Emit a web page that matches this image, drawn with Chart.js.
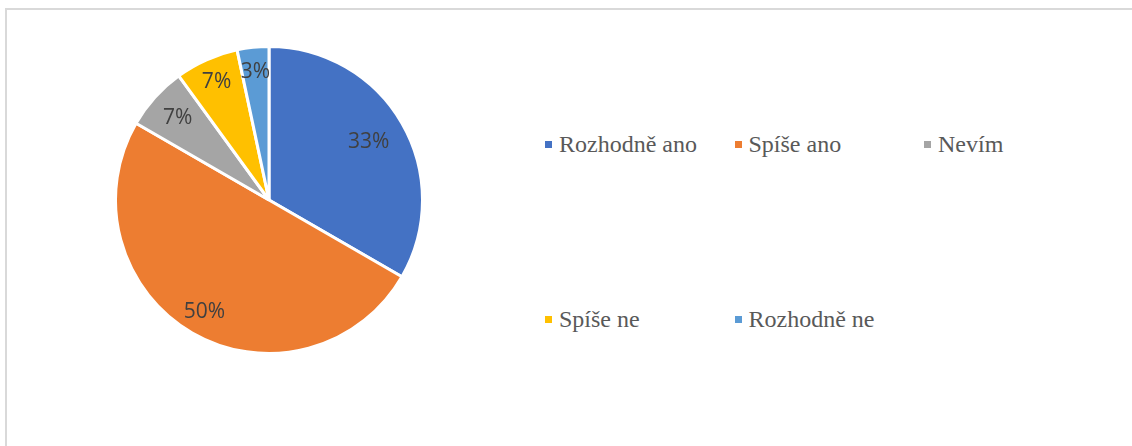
<!DOCTYPE html>
<html>
<head>
<meta charset="utf-8">
<script src="https://cdn.jsdelivr.net/npm/chart.js"></script>
<style>
  html, body { margin: 0; padding: 0; background: #fff; }
  body { width: 1132px; height: 446px; position: relative; overflow: hidden; }
  #frame { position: absolute; left: 5px; top: 8px; width: 1200px; height: 500px;
           border-left: 2px solid #d9d9d9; border-top: 2px solid #d9d9d9; }
  #pieBox { position: absolute; left: 114px; top: 45px; width: 310px; height: 310px; }
  .leg { position: absolute; height: 30px; line-height: 30px; display: flex; align-items: center;
         font-family: "Liberation Serif", "Times New Roman", serif; font-size: 24px; color: #595959;
         white-space: nowrap; }
  .leg i { display: inline-block; width: 7px; height: 7px; margin-right: 7px; }
</style>
</head>
<body>
<div id="frame"></div>
<div id="pieBox"><canvas id="pie"></canvas></div>
<div id="legend"></div>
<script>
// data
var categories = ["Rozhodně ano", "Spíše ano", "Nevím", "Spíše ne", "Rozhodně ne"];
var counts = [10, 15, 2, 2, 1];
var colors = ["#4472C4", "#ED7D31", "#A5A5A5", "#FFC000", "#5B9BD5"];

// how far out the % labels sit (fraction of radius)
var labelRadius = [0.75, 0.84, 0.8, 0.84, 0.84];

var total = counts.reduce(function(a, b){ return a + b; }, 0);

// % labels inside slices
var pctLabels = {
  id: "pctLabels",
  afterDatasetsDraw: function(chart){
    var ctx = chart.ctx;
    var meta = chart.getDatasetMeta(0);
    ctx.save();
    ctx.font = '21px "Open Sans", sans-serif';
    ctx.fillStyle = "#404040";
    ctx.textAlign = "center";
    ctx.textBaseline = "middle";
    meta.data.forEach(function(arc, i){
      var p = arc.getProps(["x", "y", "startAngle", "endAngle", "outerRadius"], true);
      var mid = (p.startAngle + p.endAngle) / 2;
      var r = p.outerRadius * labelRadius[i];
      var txt = Math.round(counts[i] / total * 100) + "%";
      ctx.fillText(txt, p.x + Math.cos(mid) * r, p.y + Math.sin(mid) * r);
    });
    ctx.restore();
  }
};

new Chart(document.getElementById("pie"), {
  type: "pie",
  data: {
    labels: categories,
    datasets: [{
      data: counts,
      backgroundColor: colors,
      borderColor: "#fff",
      borderWidth: 3
    }]
  },
  options: {
    responsive: true,
    maintainAspectRatio: false,
    animation: false,
    layout: { padding: 0 },
    plugins: {
      legend: { display: false },
      tooltip: { enabled: false }
    }
  },
  plugins: [pctLabels]
});

// legend, 3 per row
var legend = document.getElementById("legend");
categories.forEach(function(name, i){
  var col = i % 3, row = Math.floor(i / 3);
  var el = document.createElement("div");
  el.className = "leg";
  el.style.left = (545 + col * 189.5) + "px";
  el.style.top = (144 + row * 175 - 15) + "px";
  el.innerHTML = '<i style="background:' + colors[i] + '"></i>' + name;
  legend.appendChild(el);
});
</script>
</body>
</html>
